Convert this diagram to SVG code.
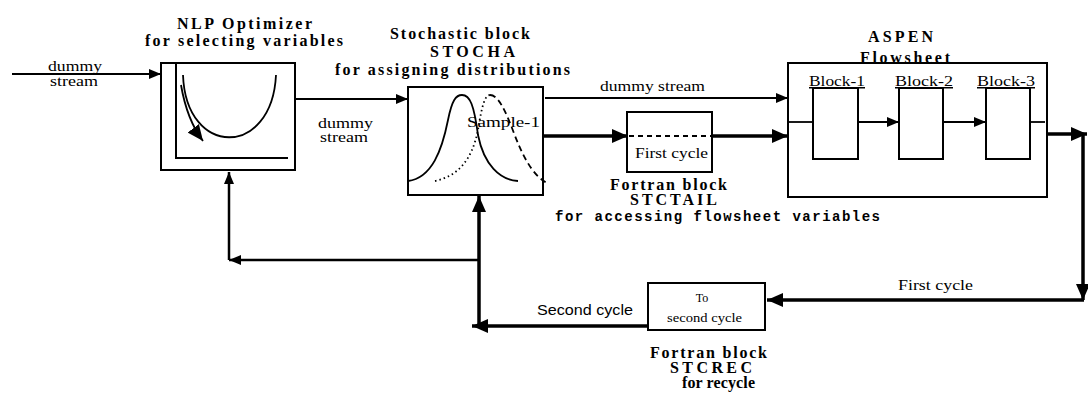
<svg xmlns="http://www.w3.org/2000/svg" width="1088" height="395" viewBox="0 0 1088 395">
<style>
.box{fill:none;stroke:#000;stroke-width:2}
.thin{fill:none;stroke:#000;stroke-width:1.8}
.med{fill:none;stroke:#000;stroke-width:2.5}
.thick{fill:none;stroke:#000;stroke-width:3.5}
.t{font-family:"Liberation Serif",serif;font-size:15px;fill:#000}
.s{font-family:"Liberation Sans",Arial,sans-serif;font-size:14px;fill:#000}
.ss{font-family:"Liberation Serif",serif;font-size:12px;fill:#000}
.b{font-family:"Liberation Serif",serif;font-size:16px;font-weight:bold;fill:#000}
.m{font-family:"Liberation Mono",monospace;font-size:14px;font-weight:bold;fill:#000}
</style>
<defs>
<marker id="ah" viewBox="0 0 12 10" refX="12" refY="5" markerWidth="12" markerHeight="10" orient="auto" markerUnits="userSpaceOnUse"><path d="M0,0 L12,5 L0,10 z" fill="#000"/></marker>
<marker id="ahb" viewBox="0 0 16 14" refX="16" refY="7" markerWidth="16" markerHeight="14" orient="auto" markerUnits="userSpaceOnUse"><path d="M0,0 L16,7 L0,14 z" fill="#000"/></marker>
</defs>

<g id="nlp">
<rect class="box" x="161" y="63" width="134" height="107"/>
<path class="box" d="M176,63 V158 H288"/>
<path class="thin" stroke-width="2.2" d="M183,75 C186,158 272,158 276,75"/>
<path class="thin" stroke-width="2.2" d="M181,85 Q187,120 203,141" marker-end="url(#ahb)"/>
<text class="b" x="177" y="29" textLength="135" lengthAdjust="spacing">NLP Optimizer</text>
<text class="b" x="145" y="46" textLength="198" lengthAdjust="spacing">for selecting variables</text>
</g>

<g id="stocha">
<rect class="box" x="408" y="87" width="135" height="108"/>
<path class="thin" stroke-width="2.2" d="M408,181 C432,178 442,150 448,120 C452,100 456,95 462,95 C470,95 474,105 478,135 C484,165 500,180 518,181"/>
<path class="thin" stroke-dasharray="1.5,3" d="M435,181 C458,176 472,160 478,130 C482,105 485,95 490,95"/>
<path class="thin" stroke-dasharray="6,4" d="M490,95 C498,95 505,110 512,128 C522,155 532,175 547,183"/>
<text class="t" x="467" y="127" textLength="73" lengthAdjust="spacingAndGlyphs">Sample-1</text>
<text class="b" x="390" y="39" textLength="140" lengthAdjust="spacing">Stochastic block</text>
<text class="b" x="430" y="57" textLength="85" lengthAdjust="spacing">STOCHA</text>
<text class="b" x="335" y="75" textLength="235" lengthAdjust="spacing">for assigning distributions</text>
</g>

<g id="stctail">
<rect class="box" x="627" y="112" width="85" height="60"/>
<line class="thin" stroke-width="2" stroke-dasharray="5,4" x1="629" y1="136" x2="712" y2="136"/>
<text class="t" x="635" y="158" textLength="73" lengthAdjust="spacingAndGlyphs">First cycle</text>
<text class="b" x="610" y="190" textLength="117" lengthAdjust="spacing">Fortran block</text>
<text class="b" x="630" y="205" textLength="87" lengthAdjust="spacing">STCTAIL</text>
<text class="m" x="555" y="221" textLength="325" lengthAdjust="spacing">for accessing flowsheet variables</text>
</g>

<g id="aspen">
<rect class="box" x="788" y="63" width="259" height="134"/>
<text class="b" x="868" y="42" textLength="65" lengthAdjust="spacing">ASPEN</text>
<text class="b" x="860" y="63" textLength="90" lengthAdjust="spacing">Flowsheet</text>
</g>

<g id="block1">
<rect class="box" x="813" y="88" width="45" height="71"/>
<text class="t" x="809" y="86" textLength="56" lengthAdjust="spacingAndGlyphs" text-decoration="underline">Block-1</text>
</g>
<g id="block2">
<rect class="box" x="899" y="88" width="44" height="71"/>
<text class="t" x="895" y="86" textLength="58" lengthAdjust="spacingAndGlyphs" text-decoration="underline">Block-2</text>
</g>
<g id="block3">
<rect class="box" x="986" y="88" width="44" height="71"/>
<text class="t" x="977" y="86" textLength="58" lengthAdjust="spacingAndGlyphs" text-decoration="underline">Block-3</text>
</g>

<g id="stcrec">
<rect class="box" x="648" y="283" width="117" height="47"/>
<text class="ss" x="702" y="302" text-anchor="middle">To</text>
<text class="ss" x="667" y="322" textLength="75" lengthAdjust="spacingAndGlyphs">second cycle</text>
<text class="b" x="650" y="358" textLength="117" lengthAdjust="spacing">Fortran block</text>
<text class="b" x="670" y="373" textLength="82" lengthAdjust="spacing">STCREC</text>
<text class="b" x="682" y="388" textLength="73" lengthAdjust="spacing">for recycle</text>
</g>

<g id="connectors">
<line class="thin" x1="12" y1="74" x2="161" y2="74" marker-end="url(#ah)"/>
<text class="t" x="48" y="71" textLength="54" lengthAdjust="spacingAndGlyphs">dummy</text>
<text class="t" x="50" y="86" textLength="48" lengthAdjust="spacingAndGlyphs">stream</text>

<line class="thin" x1="295" y1="99" x2="408" y2="99" marker-end="url(#ah)"/>
<text class="t" x="318" y="128" textLength="55" lengthAdjust="spacingAndGlyphs">dummy</text>
<text class="t" x="320" y="142" textLength="48" lengthAdjust="spacingAndGlyphs">stream</text>

<line class="thin" x1="545" y1="98" x2="788" y2="98" marker-end="url(#ah)"/>
<text class="t" x="600" y="91" textLength="105" lengthAdjust="spacingAndGlyphs">dummy stream</text>

<line class="thick" x1="543" y1="136" x2="628" y2="136" marker-end="url(#ahb)"/>
<line class="thick" x1="712" y1="136" x2="788" y2="136" marker-end="url(#ahb)"/>

<line class="thin" x1="788" y1="122" x2="813" y2="122"/>
<line class="thin" x1="858" y1="122" x2="899" y2="122" marker-end="url(#ah)"/>
<line class="thin" x1="943" y1="122" x2="986" y2="122" marker-end="url(#ah)"/>
<line class="thin" x1="1030" y1="122" x2="1045" y2="122"/>

<line class="thick" x1="1047" y1="134" x2="1087" y2="134" marker-end="url(#ahb)"/>
<line class="thick" x1="1083" y1="134" x2="1083" y2="300" marker-end="url(#ahb)"/>
<line class="thick" x1="1084" y1="300" x2="767" y2="300" marker-end="url(#ahb)"/>
<text class="t" x="898" y="290" textLength="75" lengthAdjust="spacingAndGlyphs">First cycle</text>

<line class="thick" x1="648" y1="326" x2="472" y2="326" marker-end="url(#ahb)"/>
<text class="s" x="537" y="315" textLength="96" lengthAdjust="spacingAndGlyphs">Second cycle</text>

<line class="thick" x1="479" y1="326" x2="479" y2="196" marker-end="url(#ahb)"/>
<line class="med" x1="479" y1="260" x2="229" y2="260" marker-end="url(#ah)"/>
<line class="med" x1="229" y1="260" x2="229" y2="172" marker-end="url(#ah)"/>
</g>
</svg>
